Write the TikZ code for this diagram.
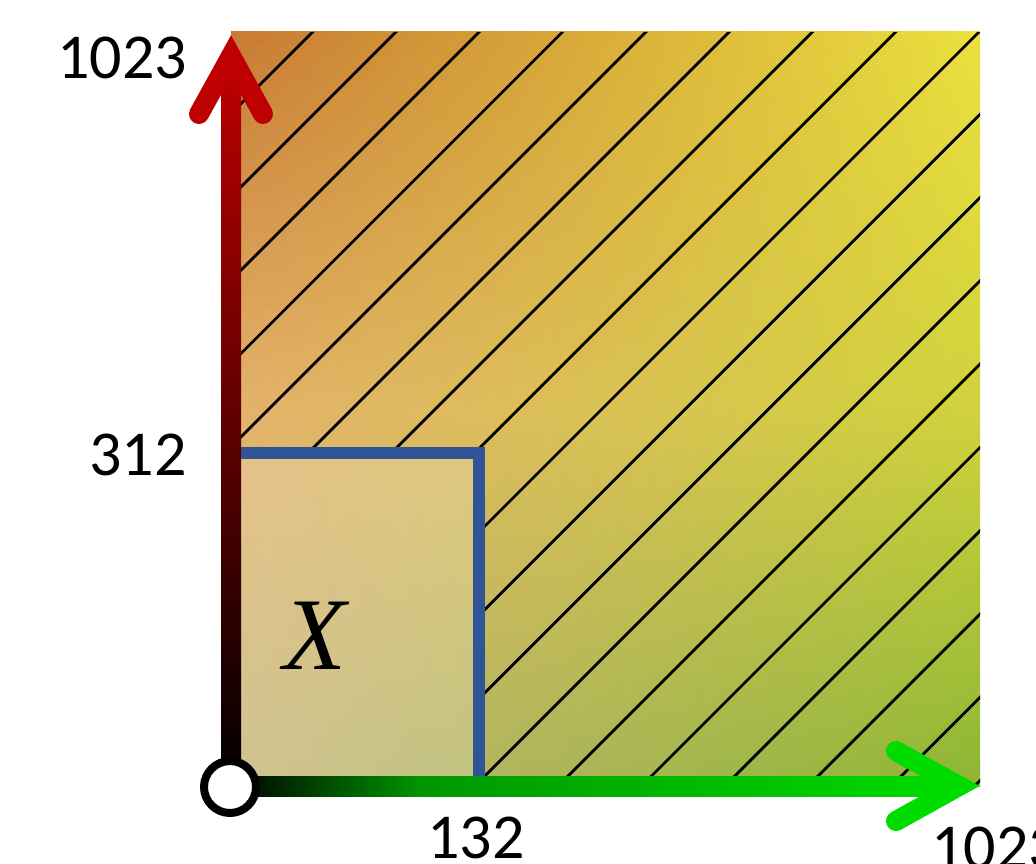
\documentclass[tikz,border=0pt]{standalone}
\usepackage{fontspec}
\setmainfont{Carlito}
\newfontfamily\xfont{Liberation Serif}
\definecolor{tl}{RGB}{200,122,52}
\definecolor{tm}{RGB}{226,172,64}
\definecolor{tr}{RGB}{235,225,62}
\definecolor{ml}{RGB}{228,178,108}
\definecolor{mm}{RGB}{242,212,108}
\definecolor{mr}{RGB}{208,210,60}
\definecolor{bl}{RGB}{195,180,118}
\definecolor{bm}{RGB}{210,208,125}
\definecolor{br}{RGB}{140,182,52}
\definecolor{axred}{RGB}{190,0,0}
\definecolor{axredmid}{RGB}{135,0,0}
\definecolor{axgreen}{RGB}{0,220,0}
\definecolor{axgreenmid}{RGB}{0,150,0}
\definecolor{boxblue}{RGB}{47,85,151}
\tikzset{
  hatchline/.style={line width=2.8pt, black},
  arrowhd/.style={line width=20pt, line cap=round, line join=miter},
  biglabel/.style={inner sep=0pt, font=\fontsize{64}{64}\selectfont},
}
\begin{document}
\begin{tikzpicture}[x=1pt,y=-1pt]
\useasboundingbox (0,0) rectangle (1036,864);
% background gradient (top half)
\foreach \i in {0,...,29}{
  \pgfmathtruncatemacro{\q}{(\i+0.5)*100/30}
  \colorlet{cL}{ml!\q!tl}
  \colorlet{cM}{mm!\q!tm}
  \colorlet{cR}{mr!\q!tr}
  \pgfmathsetmacro{\ya}{32+\i*377/30}
  \shade[left color=cL, middle color=cM, right color=cR] (231,\ya) rectangle (980,\ya+13.2);
}
% background gradient (bottom half)
\foreach \i in {0,...,29}{
  \pgfmathtruncatemacro{\q}{(\i+0.5)*100/30}
  \colorlet{cL}{bl!\q!ml}
  \colorlet{cM}{bm!\q!mm}
  \colorlet{cR}{br!\q!mr}
  \pgfmathsetmacro{\ya}{409+\i*377/30}
  \pgfmathsetmacro{\yb}{min(786,\ya+13.2)}
  \shade[left color=cL, middle color=cM, right color=cR] (231,\ya) rectangle (980,\yb);
}
% lighter box region
\fill[white, opacity=0.2] (231,453) rectangle (479,786);
% hatching
\begin{scope}
  \clip (231,32) -- (980,32) -- (980,786) -- (479,786) -- (479,453) -- (231,453) -- cycle;
  \foreach \k in {-9,...,9}{
    \pgfmathsetmacro{\c}{1011+\k*83.3}
    \draw[hatchline] (\c-32+40,-8) -- (\c-786-40,826);
  }
\end{scope}
% blue box outline
\coordinate (B1) at (231,453);
\coordinate (B2) at (479,453);
\coordinate (B3) at (479,777);
\draw[boxblue, line width=12.5pt, line join=miter] (B1) -- (B2) -- (B3);
% axes
\coordinate (O) at (231,786);
\coordinate (Ytip) at (231,56);
\coordinate (Xtip) at (959,786);
\coordinate (YL) at (199,114);
\coordinate (YR) at (263,114);
\coordinate (XU) at (896,751);
\coordinate (XD) at (896,821);
\shade[top color=axred, middle color=axredmid, bottom color=black] (221,57) rectangle (241,786);
\shade[left color=black, right color=axgreenmid] (231,776) rectangle (420,796);
\shade[left color=axgreenmid, right color=axgreen] (419,776) rectangle (958,796);
\draw[arrowhd, axred] (YL) -- (Ytip) -- (YR);
\draw[arrowhd, axgreen] (XU) -- (Xtip) -- (XD);
\node[circle, draw=black, line width=8pt, fill=white, minimum size=52pt, inner sep=0pt] (origin) at (230,787) {};
% labels
\node[biglabel] (l1023a) at (122,58) {1023};
\node[biglabel] (l312) at (138,455) {312};
\node[biglabel] (l132) at (476,838) {132};
\node[biglabel, anchor=west] (l1023b) at (931,848) {1023};
\node[inner sep=0pt, font=\xfont\itshape\fontsize{103}{103}\selectfont] (lX) at (315,636) {X};
\end{tikzpicture}
\end{document}
